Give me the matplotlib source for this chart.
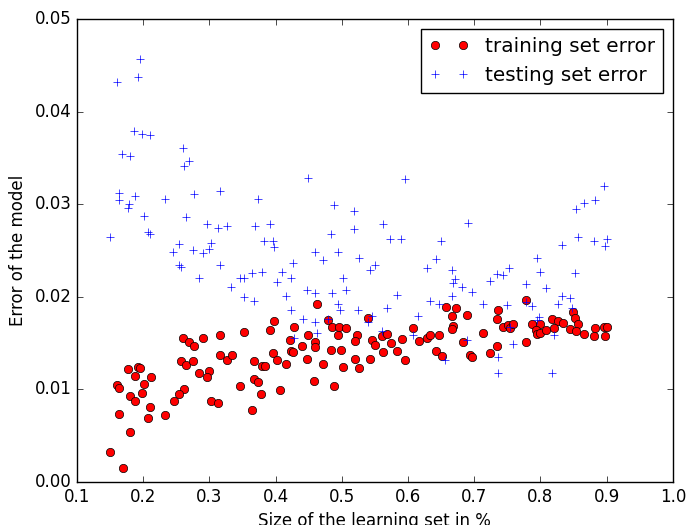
import matplotlib
matplotlib.use('Agg')
import matplotlib.pyplot as plt

# training set error (red circles)
train_x = [0.397, 0.391, 0.352, 0.316, 0.290, 0.261, 0.270, 0.277, 0.396, 0.402,
           0.316, 0.326, 0.334, 0.258, 0.265, 0.275, 0.368, 0.379, 0.384, 0.192,
           0.196, 0.178, 0.188, 0.212, 0.284, 0.300, 0.297, 0.201, 0.160, 0.164,
           0.368, 0.374, 0.347, 0.407, 0.262, 0.255, 0.198, 0.180, 0.188, 0.246,
           0.378, 0.303, 0.313, 0.210, 0.365, 0.164, 0.208, 0.233, 0.180, 0.150,
           0.169,
           0.462, 0.428, 0.479, 0.485, 0.496, 0.506, 0.495, 0.523, 0.540, 0.449,
           0.422, 0.460, 0.460, 0.440, 0.423, 0.427, 0.416, 0.448, 0.483, 0.499,
           0.520, 0.545, 0.550, 0.560, 0.568, 0.574, 0.562, 0.584, 0.591, 0.596,
           0.543, 0.520, 0.471, 0.502, 0.526, 0.458, 0.489, 0.608, 0.616, 0.628,
           0.633, 0.647, 0.642, 0.651, 0.657, 0.672, 0.666, 0.668, 0.666, 0.689,
           0.683, 0.693,
           0.736, 0.735, 0.778, 0.713, 0.743, 0.751, 0.754, 0.759, 0.735, 0.778,
           0.724, 0.697, 0.787, 0.799, 0.793, 0.794, 0.800, 0.808, 0.817, 0.826,
           0.834, 0.821, 0.844, 0.849, 0.852, 0.856, 0.854, 0.866, 0.882, 0.881,
           0.896, 0.900, 0.898]
train_y = [0.0174, 0.0164, 0.0162, 0.0159, 0.0156, 0.0156, 0.0151, 0.0147, 0.0139, 0.0132,
           0.0137, 0.0132, 0.0137, 0.0131, 0.0126, 0.0131, 0.0131, 0.0125, 0.0125, 0.0124,
           0.0123, 0.0122, 0.0115, 0.0113, 0.0118, 0.0120, 0.0113, 0.0106, 0.0105, 0.0102,
           0.0111, 0.0108, 0.0104, 0.0099, 0.0100, 0.0095, 0.0096, 0.0093, 0.0088, 0.0088,
           0.0095, 0.0087, 0.0085, 0.0081, 0.0078, 0.0073, 0.0069, 0.0072, 0.0054, 0.0032,
           0.0015,
           0.0192, 0.0168, 0.0175, 0.0168, 0.0168, 0.0166, 0.0159, 0.0159, 0.0177, 0.0159,
           0.0153, 0.0151, 0.0146, 0.0147, 0.0142, 0.0141, 0.0127, 0.0133, 0.0143, 0.0143,
           0.0152, 0.0153, 0.0148, 0.0158, 0.0160, 0.0150, 0.0141, 0.0142, 0.0154, 0.0132,
           0.0133, 0.0133, 0.0127, 0.0124, 0.0123, 0.0109, 0.0104, 0.0166, 0.0152, 0.0156,
           0.0159, 0.0159, 0.0142, 0.0136, 0.0189, 0.0188, 0.0179, 0.0169, 0.0165, 0.0181,
           0.0151, 0.0137,
           0.0186, 0.0176, 0.0197, 0.0161, 0.0168, 0.0170, 0.0166, 0.0171, 0.0147, 0.0151,
           0.0139, 0.0135, 0.0171, 0.0171, 0.0164, 0.0160, 0.0161, 0.0164, 0.0176, 0.0174,
           0.0172, 0.0166, 0.0165, 0.0184, 0.0177, 0.0171, 0.0163, 0.0160, 0.0166, 0.0158,
           0.0168, 0.0168, 0.0158]

# testing set error (blue crosses)
test_x = [0.196, 0.192, 0.160, 0.187, 0.198, 0.210, 0.261, 0.270, 0.262, 0.168,
          0.180, 0.163, 0.163, 0.188, 0.233, 0.277, 0.316, 0.374, 0.179, 0.178,
          0.201, 0.265, 0.296, 0.313, 0.327, 0.369, 0.392, 0.150, 0.208, 0.211,
          0.255, 0.302, 0.383, 0.396, 0.398, 0.245, 0.275, 0.290, 0.299,
          0.254, 0.258, 0.316, 0.284, 0.333, 0.347, 0.352, 0.365, 0.379, 0.402,
          0.409, 0.353, 0.368,
          0.449, 0.595, 0.489, 0.519, 0.483, 0.519, 0.562, 0.691, 0.573, 0.590,
          0.650, 0.460, 0.495,
          0.472, 0.526, 0.427, 0.424, 0.543, 0.550, 0.502, 0.507, 0.448, 0.459,
          0.485, 0.416, 0.584, 0.628, 0.642, 0.666, 0.668, 0.671, 0.682, 0.666,
          0.633, 0.647, 0.423, 0.495, 0.498, 0.524, 0.568, 0.441, 0.460, 0.479,
          0.462, 0.540, 0.546, 0.615, 0.560, 0.608, 0.428, 0.656, 0.689,
          0.896, 0.866, 0.882, 0.854, 0.857, 0.832, 0.881, 0.900, 0.898,
          0.794, 0.752, 0.734, 0.743, 0.799, 0.852, 0.724, 0.778, 0.808, 0.697,
          0.833, 0.844, 0.713, 0.749, 0.778, 0.787, 0.826, 0.848, 0.798, 0.794,
          0.754, 0.821, 0.759, 0.736, 0.736, 0.818]
test_y = [0.0457, 0.0438, 0.0432, 0.0379, 0.0376, 0.0375, 0.0361, 0.0347, 0.0342, 0.0354,
          0.0352, 0.0312, 0.0305, 0.0309, 0.0306, 0.0311, 0.0314, 0.0306, 0.0300, 0.0296,
          0.0288, 0.0286, 0.0279, 0.0275, 0.0277, 0.0277, 0.0279, 0.0265, 0.0270, 0.0268,
          0.0257, 0.0258, 0.0260, 0.0261, 0.0254, 0.0249, 0.0251, 0.0248, 0.0252,
          0.0234, 0.0232, 0.0234, 0.0221, 0.0211, 0.0220, 0.0221, 0.0226, 0.0227, 0.0216,
          0.0227, 0.0200, 0.0196,
          0.0329, 0.0327, 0.0299, 0.0293, 0.0268, 0.0273, 0.0279, 0.0280, 0.0263, 0.0263,
          0.0260, 0.0249, 0.0249,
          0.0240, 0.0242, 0.0237, 0.0220, 0.0229, 0.0234, 0.0221, 0.0208, 0.0208, 0.0204,
          0.0204, 0.0201, 0.0202, 0.0231, 0.0241, 0.0229, 0.0215, 0.0219, 0.0211, 0.0201,
          0.0196, 0.0192, 0.0186, 0.0192, 0.0186, 0.0186, 0.0188, 0.0176, 0.0173, 0.0176,
          0.0161, 0.0173, 0.0179, 0.0179, 0.0163, 0.0159, 0.0156, 0.0132, 0.0153,
          0.0320, 0.0302, 0.0305, 0.0295, 0.0265, 0.0256, 0.0260, 0.0263, 0.0255,
          0.0242, 0.0231, 0.0225, 0.0224, 0.0227, 0.0226, 0.0217, 0.0214, 0.0210, 0.0205,
          0.0201, 0.0199, 0.0192, 0.0191, 0.0194, 0.0190, 0.0192, 0.0188, 0.0178, 0.0175,
          0.0167, 0.0159, 0.0149, 0.0135, 0.0118, 0.0118]

plt.style.use('classic')
fig = plt.figure(figsize=(6.86, 5.25), dpi=100, facecolor='white')
ax = fig.add_axes([0.112, 0.082, 0.869, 0.881])

ax.plot(train_x, train_y, 'ro', label='training set error')
ax.plot(test_x, test_y, 'b+', label='testing set error')

ax.set_xlim(0.1, 1.0)
ax.set_ylim(0.0, 0.05)
ax.set_xlabel('Size of the learning set in %')
ax.set_ylabel('Error of the model')
ax.legend(loc='upper right')

fig.savefig('out.png', dpi=100, facecolor='white')
